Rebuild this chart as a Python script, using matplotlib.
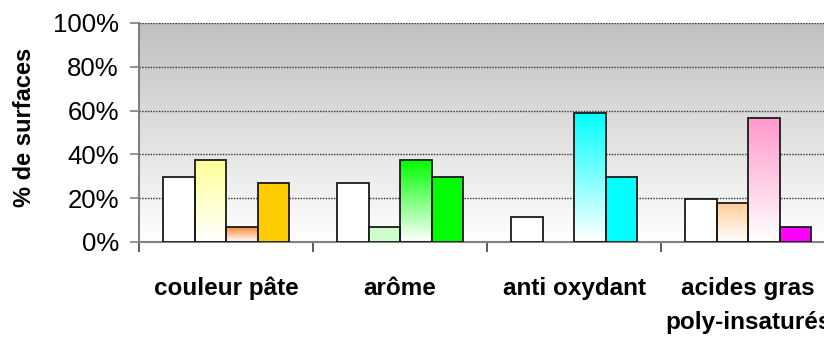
import numpy as np
import matplotlib.pyplot as plt
from matplotlib.colors import to_rgb

plt.rcParams['font.family'] = ['Liberation Sans', 'DejaVu Sans']

# Données (% de surfaces)
categories = ['couleur pâte', 'arôme', 'anti oxydant', 'acides gras\npoly-insaturés']
serie1 = [29.5, 27.0, 11.6, 19.6]
serie2 = [37.4, 6.7, 0.0, 18.0]
serie3 = [6.7, 37.4, 59.0, 56.5]
serie4 = [27.0, 29.5, 29.5, 6.7]

# couleurs par barre (catégorie x série) ; True = dégradé vers le blanc
couleurs = [
    ['#ffffff', '#ffff99', '#ff8a3a', '#ffcc00'],
    ['#ffffff', '#ccffcc', '#00ff00', '#00ff00'],
    ['#ffffff', '#ffffff', '#00ffff', '#00ffff'],
    ['#ffffff', '#ffcc99', '#ff99cc', '#ff00ff'],
]
degrades = [
    [False, True, True, False],
    [False, False, True, False],
    [False, False, True, False],
    [False, True, True, False],
]


def degrade(ax, barre, couleur):
    """Remplit une barre avec un dégradé couleur (haut) -> blanc (bas)."""
    x, y = barre.get_x(), barre.get_y()
    w, h = barre.get_width(), barre.get_height()
    c = np.array(to_rgb(couleur))
    t = np.linspace(1, 0, 100)[:, None]
    img = (c * t + np.ones(3) * (1 - t))[:, None, :]
    im = ax.imshow(img, extent=(x, x + w, y, y + h), aspect='auto',
                   zorder=2.5, origin='upper', interpolation='bilinear')
    im.set_clip_path(barre)


fig = plt.figure(figsize=(8.24, 3.37), dpi=100)
ax = fig.add_axes([0.1687, 0.2819, 0.8447, 0.6499])

# fond gris dégradé
fond = np.linspace(0.753, 1.0, 100)[:, None]
ax.imshow(np.dstack([fond, fond, fond]), extent=(0, 1, 0, 1), aspect='auto',
          transform=ax.transAxes, zorder=0, origin='upper', interpolation='bilinear')

series = [serie1, serie2, serie3, serie4]
largeur = 0.181
for j, serie in enumerate(series):
    pos = np.arange(len(categories)) + 0.5 + (j - 1.5) * largeur
    for i, v in enumerate(serie):
        if v <= 0:
            continue
        grad = degrades[i][j]
        b = ax.bar(pos[i], v, width=largeur,
                   color='none' if grad else couleurs[i][j],
                   edgecolor='#1a1a1a', linewidth=1.3, zorder=3)[0]
        if grad:
            degrade(ax, b, couleurs[i][j])

ax.set_xlim(0, 4)
ax.set_ylim(0, 100)
ax.set_yticks([0, 20, 40, 60, 80, 100])
ax.set_yticklabels(['0%', '20%', '40%', '60%', '80%', '100%'], fontsize=18.5)
ax.set_xticks(np.arange(len(categories)) + 0.5)
ax.set_xticklabels(categories, fontsize=17.5, fontweight='bold', linespacing=1.6)
ax.set_xticks(np.arange(0, 5), minor=True)
ax.tick_params(axis='x', which='major', length=0, pad=25)
ax.tick_params(axis='x', which='minor', length=7, width=1.2, color='#404040')
ax.tick_params(axis='y', length=6.5, width=1.2, color='#808080', pad=8)

for y in [20, 40, 60, 80, 100]:
    ax.axhline(y, linestyle=(0, (1, 1)), color='#303030', linewidth=1, zorder=1)

for s in ['top', 'right']:
    ax.spines[s].set_visible(False)
for s in ['left', 'bottom']:
    ax.spines[s].set_color('#808080')
    ax.spines[s].set_linewidth(1.5)

ax.set_ylabel('% de surfaces', fontsize=17, fontweight='bold')
ax.yaxis.set_label_coords(-0.148, 0.523)

fig.savefig('out.png', dpi=100)
